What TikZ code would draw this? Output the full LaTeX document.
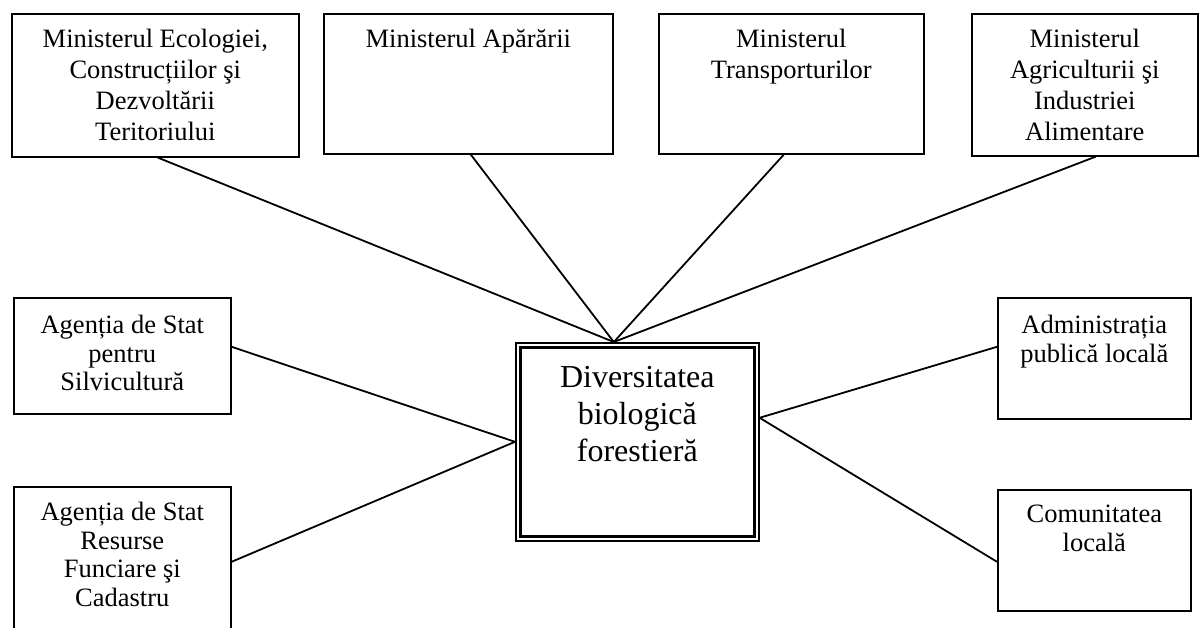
\documentclass[tikz,border=0pt]{standalone}
\usepackage{fontspec}
\setmainfont{Liberation Serif}
\tikzset{>=stealth}

\begin{document}
\begin{tikzpicture}[x=1pt, y=-1pt,
    box/.style={draw, line width=1.6pt, anchor=north west, inner sep=0pt},
    txt/.style={anchor=north, align=center, inner sep=0pt,
        font=\fontsize{26.5}{31}\selectfont},
    sidetxt/.style={txt, font=\fontsize{26.5}{28.5}\selectfont},
    link/.style={line width=1.8pt}]
    \useasboundingbox (0,0) rectangle (1200,628);

    % ministere
    \node[box, minimum width=287pt, minimum height=143pt] (ecol) at (11,13) {};
    \node[box, minimum width=289pt, minimum height=140pt] (apar) at (323,13) {};
    \node[box, minimum width=265pt, minimum height=140pt] (trans) at (658,13) {};
    \node[box, minimum width=226pt, minimum height=142pt] (agric) at (971,13) {};
    \node[txt] (ecol-t) at ([yshift=-16pt]ecol.north)
        {Ministerul Ecologiei,\\ Construcțiilor şi\\ Dezvoltării\\ Teritoriului};
    \node[txt] (apar-t) at ([yshift=-16pt]apar.north) {Ministerul Apărării};
    \node[txt] (trans-t) at ([yshift=-16pt]trans.north) {Ministerul\\ Transporturilor};
    \node[txt] (agric-t) at ([yshift=-16pt]agric.north)
        {Ministerul\\ Agriculturii şi\\ Industriei\\ Alimentare};

    % agentii (stanga) si local (dreapta)
    \node[box, minimum width=217pt, minimum height=116pt] (silv) at (13,297) {};
    \node[box, minimum width=217pt, minimum height=160pt] (funciar) at (13,486) {};
    \node[box, minimum width=193pt, minimum height=121pt] (admin) at (997,297) {};
    \node[box, minimum width=193pt, minimum height=121pt] (comun) at (997,489) {};
    \node[sidetxt] (silv-t) at ([yshift=-18pt]silv.north)
        {Agenția de Stat\\ pentru\\ Silvicultură};
    \node[sidetxt] (funciar-t) at ([yshift=-16pt]funciar.north)
        {Agenția de Stat\\ Resurse\\ Funciare şi\\ Cadastru};
    \node[sidetxt] (admin-t) at ([yshift=-18pt]admin.north)
        {Administrația\\ publică locală};
    \node[sidetxt] (comun-t) at ([yshift=-16pt]comun.north)
        {Comunitatea\\ locală};

    % centru
    \node[box, line width=1.6pt, minimum width=243pt, minimum height=198pt] (dbf) at (515,342) {};
    \draw[line width=2.8pt] ([shift={(5.5,5.5)}]dbf.north west)
        rectangle ([shift={(-5.5,-5.5)}]dbf.south east);
    \node[txt, font=\fontsize{32}{37}\selectfont] (dbf-t) at ([yshift=-24pt]dbf.north)
        {Diversitatea\\ biologică\\ forestieră};

    \coordinate (hubtop) at ([xshift=-23.5pt]dbf.north);
    \coordinate (hubleft) at (dbf.west);
    \coordinate (hubright) at ([yshift=24pt]dbf.east);

    \draw[link] ([xshift=2.5pt]ecol.south) -- (hubtop);
    \draw[link] ([xshift=2.5pt]apar.south) -- (hubtop);
    \draw[link] ([xshift=-7.5pt]trans.south) -- (hubtop);
    \draw[link] ([xshift=11pt]agric.south) -- (hubtop);
    \draw[link] ([yshift=9pt]silv.east) -- (hubleft);
    \draw[link] ([yshift=5pt]funciar.east) -- (hubleft);
    \draw[link] ([yshift=11.5pt]admin.west) -- (hubright);
    \draw[link] ([yshift=-11.5pt]comun.west) -- (hubright);
\end{tikzpicture}
\end{document}
